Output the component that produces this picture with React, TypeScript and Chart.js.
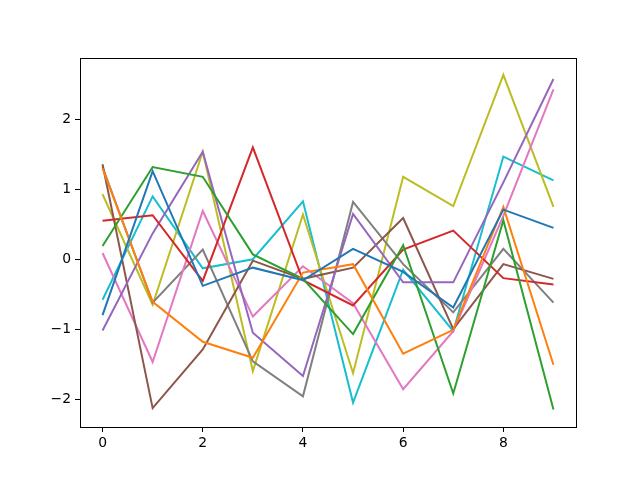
import React, { useEffect, useRef } from "react";
import { Chart, registerables } from "chart.js";

Chart.register(...registerables);

const xValues = [0, 1, 2, 3, 4, 5, 6, 7, 8, 9];
const xTicks = [0, 2, 4, 6, 8];
const yTicks = [-2, -1, 0, 1, 2];

const series0 = [-0.8, 1.26, -0.38, -0.12, -0.3, 0.15, -0.18, -0.69, 0.71, 0.45];
const series1 = [1.3, -0.61, -1.18, -1.41, -0.19, -0.07, -1.35, -1.01, 0.75, -1.51];
const series2 = [0.19, 1.32, 1.18, 0.07, -0.28, -1.07, 0.2, -1.92, 0.56, -2.15];
const series3 = [0.55, 0.63, -0.31, 1.6, -0.3, -0.66, 0.14, 0.41, -0.27, -0.36];
const series4 = [-1.02, 0.37, 1.54, -1.05, -1.67, 0.65, -0.33, -0.33, 1.1, 2.58];
const series5 = [1.36, -2.13, -1.29, -0.02, -0.28, -0.12, 0.59, -1.0, -0.07, -0.28];
const series6 = [0.09, -1.47, 0.69, -0.82, -0.1, -0.63, -1.86, -1.03, 0.62, 2.43];
const series7 = [1.32, -0.62, 0.14, -1.46, -1.96, 0.82, -0.07, -0.76, 0.15, -0.62];
const series8 = [0.93, -0.65, 1.54, -1.6, 0.64, -1.63, 1.18, 0.76, 2.64, 0.75];
const series9 = [-0.58, 0.9, -0.13, 0.0, 0.83, -2.05, -0.15, -1.03, 1.47, 1.13];

const allSeries = [series0, series1, series2, series3, series4, series5, series6, series7, series8, series9];
const colors = ["#1f77b4", "#ff7f0e", "#2ca02c", "#d62728", "#9467bd", "#8c564b", "#e377c2", "#7f7f7f", "#bcbd22", "#17becf"];

const frame = {
  id: "frame",
  afterDraw(chart: any) {
    const { ctx, chartArea } = chart;
    ctx.save();
    ctx.strokeStyle = "#000";
    ctx.lineWidth = 1;
    ctx.strokeRect(
      Math.round(chartArea.left) + 0.5,
      Math.round(chartArea.top) + 0.5,
      Math.round(chartArea.right - chartArea.left),
      Math.round(chartArea.bottom - chartArea.top)
    );
    ctx.restore();
  },
};

export default function App() {
  const ref = useRef<HTMLCanvasElement>(null);
  useEffect(() => {
    if (!ref.current) return;
    const font = { family: "DejaVu Sans", size: 13.9 };
    const chart = new Chart(ref.current, {
      type: "line",
      data: {
        datasets: allSeries.map((s, i) => ({
          data: s.map((v, j) => ({ x: xValues[j], y: v })),
          borderColor: colors[i],
          backgroundColor: colors[i],
          borderWidth: 2,
          pointRadius: 0,
          tension: 0,
          fill: false,
        })),
      },
      options: {
        animation: false,
        responsive: false,
        maintainAspectRatio: false,
        layout: { padding: { left: 0, top: 58, right: 64, bottom: 0 } },
        plugins: { legend: { display: false }, tooltip: { enabled: false } },
        scales: {
          x: {
            type: "linear",
            min: -0.45,
            max: 9.45,
            afterBuildTicks: (scale: any) => {
              scale.ticks = xTicks.map((v) => ({ value: v }));
            },
            afterFit: (scale: any) => {
              scale.height = 53;
            },
            grid: { drawOnChartArea: false, drawTicks: true, tickLength: 5, color: "#000", lineWidth: 1 },
            border: { display: true, color: "#000", width: 1 },
            ticks: { color: "#000", font, padding: 3, maxRotation: 0 },
          },
          y: {
            type: "linear",
            min: -2.4,
            max: 2.88,
            afterBuildTicks: (scale: any) => {
              scale.ticks = yTicks.map((v) => ({ value: v }));
            },
            afterFit: (scale: any) => {
              scale.width = 80;
            },
            grid: { drawOnChartArea: false, drawTicks: true, tickLength: 5, color: "#000", lineWidth: 1 },
            border: { display: true, color: "#000", width: 1 },
            ticks: { color: "#000", font, padding: 4, callback: (v: any) => (v < 0 ? "\u2212" + Math.abs(v) : String(v)) },
          },
        },
      },
      plugins: [frame],
    });
    return () => chart.destroy();
  }, []);
  return (
    <div style={{ position: "absolute", left: 0, top: 0, width: 640, height: 480, background: "#fff" }}>
      <canvas ref={ref} width={640} height={480} style={{ width: 640, height: 480 }} />
    </div>
  );
}
